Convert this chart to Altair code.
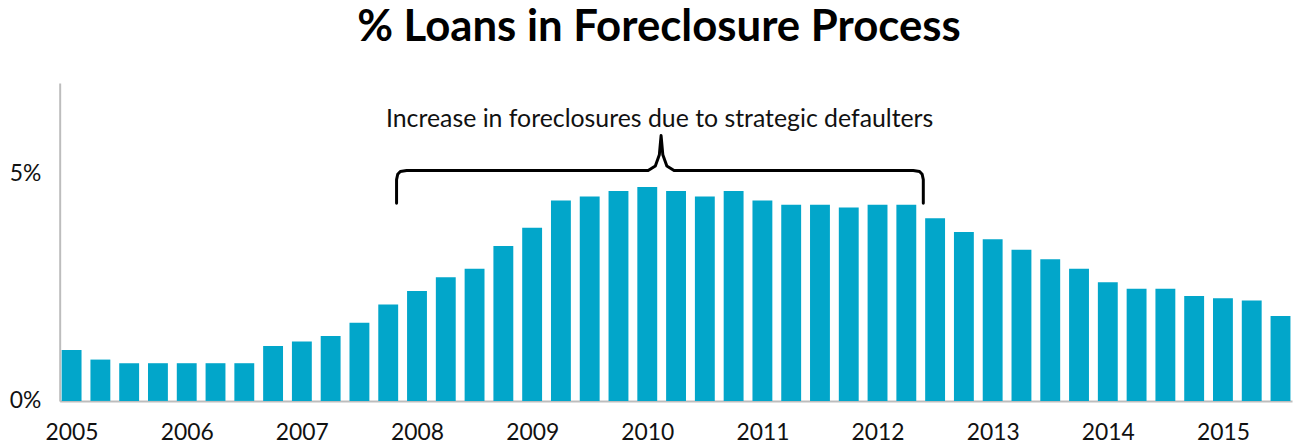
import altair as alt
import pandas as pd

# ---- data ----
years = ["2005", "2006", "2007", "2008", "2009", "2010", "2011", "2012", "2013", "2014", "2015"]
quarters = ["Q1", "Q2", "Q3", "Q4"]
# % of loans in foreclosure, 2005 Q1 .. 2015 Q3
pct_foreclosure = [
    1.12, 0.91, 0.83, 0.83,
    0.83, 0.83, 0.83, 1.21,
    1.31, 1.43, 1.72, 2.12,
    2.42, 2.72, 2.91, 3.41,
    3.81, 4.41, 4.50, 4.62,
    4.71, 4.62, 4.50, 4.62,
    4.41, 4.32, 4.32, 4.26,
    4.32, 4.32, 4.02, 3.72,
    3.56, 3.33, 3.12, 2.91,
    2.61, 2.47, 2.47, 2.31,
    2.26, 2.21, 1.87,
]
y_ticks = [0, 5]
annotation = "Increase in foreclosures due to strategic defaulters"
# bracket spans from just after 2007 Q4 to just after 2012 Q2
bracket_from = 11.29
bracket_to = 29.59
bracket_level = 5.07
bracket_base = 4.35
bracket_tip = 5.84
annotation_level = 6.21

labels = [f"{y} {q}" for y in years for q in quarters][: len(pct_foreclosure)]
bars = pd.DataFrame({"idx": list(range(len(pct_foreclosure))), "quarter": labels, "pct": pct_foreclosure})

# curly-brace outline built from the span above
mid = (bracket_from + bracket_to) / 2 + 0.04
r = 0.35
bx = [
    bracket_from, bracket_from, bracket_from + 0.04, bracket_from + 0.13, bracket_from + r,
    mid - 0.45, mid - 0.2, mid - 0.06, mid,
    mid + 0.06, mid + 0.2, mid + 0.45,
    bracket_to - r, bracket_to - 0.13, bracket_to - 0.04, bracket_to, bracket_to,
]
by = [
    bracket_base, bracket_level - 0.2, bracket_level - 0.08, bracket_level - 0.02, bracket_level,
    bracket_level, bracket_level + 0.1, bracket_level + 0.35, bracket_tip,
    bracket_level + 0.35, bracket_level + 0.1, bracket_level,
    bracket_level, bracket_level - 0.02, bracket_level - 0.08, bracket_level - 0.2, bracket_base,
]
brace = pd.DataFrame({"x": bx, "y": by, "k": list(range(len(bx)))})
note = pd.DataFrame({"x": [mid - 0.05], "y": [annotation_level], "t": [annotation]})

year_array = "[" + ",".join(f"'{y}'" for y in years) + "]"

x_scale = alt.Scale(domain=[-0.414, 42.4], nice=False, zero=False, padding=0)
y_scale = alt.Scale(domain=[0, 7], nice=False, padding=0)

bar_layer = alt.Chart(bars).mark_bar(size=20, color="#02A6CA").encode(
    x=alt.X(
        "idx:Q",
        scale=x_scale,
        axis=alt.Axis(
            values=[i * 4 for i in range(len(years))],
            labelExpr=f"{year_array}[datum.value / 4]",
            title=None,
            ticks=False,
            grid=False,
            domainColor="#BDBDBD",
            domainWidth=2,
            labelFont="Lato",
            labelFontSize=23,
            labelColor="#111111",
            labelPadding=21,
            labelFlush=False,
        ),
    ),
    y=alt.Y(
        "pct:Q",
        scale=y_scale,
        axis=alt.Axis(
            values=y_ticks,
            labelExpr="datum.value + '%'",
            title=None,
            ticks=False,
            grid=False,
            domainColor="#BDBDBD",
            domainWidth=2,
            labelFont="Lato",
            labelFontSize=23,
            labelColor="#111111",
            labelPadding=19,
        ),
    ),
    tooltip=["quarter:N", "pct:Q"],
)

brace_layer = alt.Chart(brace).mark_line(color="black", strokeWidth=3, strokeJoin="round", strokeCap="round").encode(
    x=alt.X("x:Q", scale=x_scale),
    y=alt.Y("y:Q", scale=y_scale),
    order="k:Q",
)

note_layer = alt.Chart(note).mark_text(font="Lato", fontSize=25, color="#111111", align="center", baseline="middle").encode(
    x=alt.X("x:Q", scale=x_scale),
    y=alt.Y("y:Q", scale=y_scale),
    text="t:N",
)

chart = (
    alt.layer(bar_layer, brace_layer, note_layer)
    .properties(
        width=1240,
        height=320,
        autosize=alt.AutoSizeParams(type="none"),
        padding={"left": 52, "top": 74, "right": 4, "bottom": 45},
        title=alt.TitleParams(
            "% Loans in Foreclosure Process",
            font="Lato",
            fontSize=44,
            fontWeight="bold",
            color="black",
            anchor="middle",
            dx=-17,
            offset=33,
        ),
    )
    .configure_view(stroke=None)
)

chart.save("out.html", embed_options={"renderer": "svg", "actions": False})
